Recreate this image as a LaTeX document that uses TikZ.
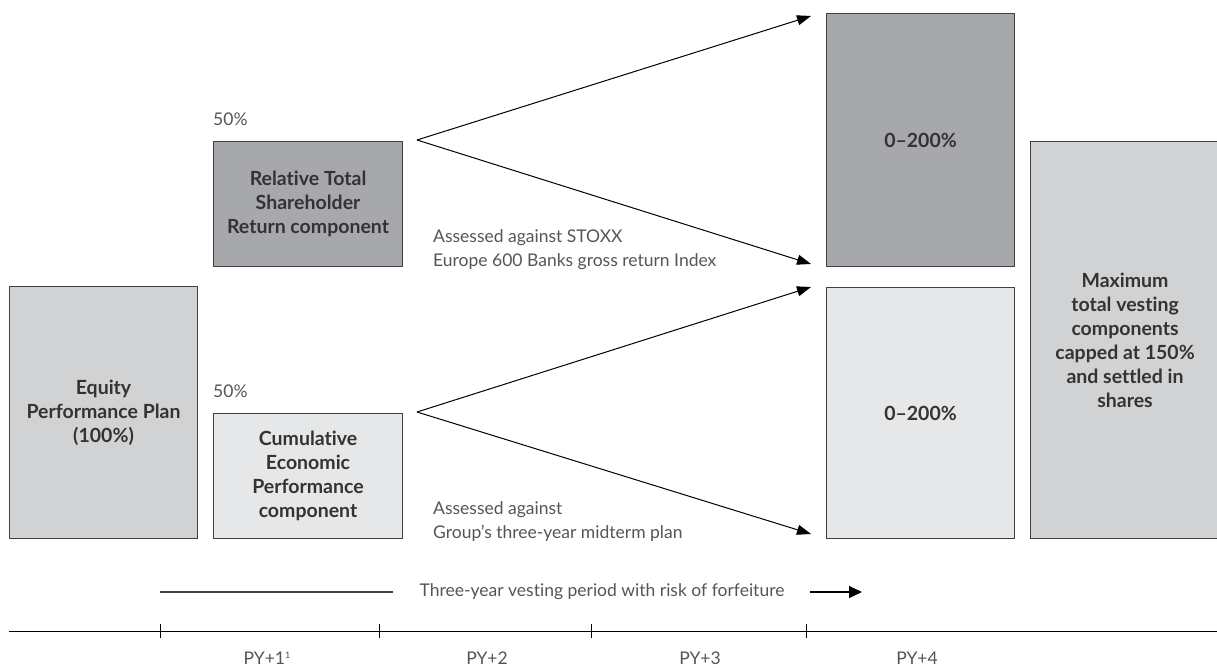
\documentclass[tikz,border=0pt]{standalone}
\usepackage{fontspec}
\setmainfont{Lato}[Ligatures=NoCommon]
\usetikzlibrary{arrows.meta}
\definecolor{bdr}{HTML}{3F3F41}
\definecolor{dk}{HTML}{A7A8AB}
\definecolor{md}{HTML}{D1D2D4}
\definecolor{lt}{HTML}{E6E7E8}
\definecolor{txt}{HTML}{333333}
\definecolor{ltxt}{HTML}{555555}
\tikzset{
  box/.style={draw=bdr, line width=1.1pt, anchor=north west, inner sep=0pt, align=center,
    text=txt, font=\fontsize{19.5}{24}\selectfont\bfseries},
  note/.style={anchor=west, inner sep=0pt, align=left, text=ltxt, font=\fontsize{17.5}{24}\selectfont},
  conn/.style={line width=1pt, draw=black, -{Triangle[length=14pt,width=10pt]}},
  axis/.style={line width=0.9pt, draw=black},
  yr/.style={inner sep=0pt, text=ltxt, font=\fontsize{17.5}{20}\selectfont}
}
\begin{document}
\begin{tikzpicture}[x=1pt,y=-1pt]
\useasboundingbox (0,0) rectangle (1217,668);
% boxes
\node[box, fill=md, minimum width=188pt, minimum height=252pt] (eq) at (9,286) {Equity\\Performance Plan\\(100\%)};
\node[box, fill=dk, minimum width=189pt, minimum height=125pt] (tsr) at (213,141) {Relative Total\\Shareholder\\Return component};
\node[box, fill=lt, minimum width=189pt, minimum height=125pt] (cep) at (213,413) {Cumulative\\Economic\\Performance\\component};
\node[box, fill=dk, minimum width=188pt, minimum height=253pt] (r1) at (826,13) {0–200\%};
\node[box, fill=lt, minimum width=188pt, minimum height=251pt] (r2) at (826,287) {0–200\%};
\node[box, fill=md, minimum width=189pt, minimum height=397pt] (mx) at (1030,141) {Maximum\\total vesting\\components\\capped at 150\%\\and settled in\\shares};
% percent labels
\node[note] (p1) at (213,119) {50\%};
\node[note] (p2) at (213,391) {50\%};
% fans
\coordinate (a1) at (417,140);
\coordinate (a2) at (417,412);
\coordinate (t1u) at (811,16);
\coordinate (t1d) at (811,264);
\coordinate (t2u) at (811,287);
\coordinate (t2d) at (811,534);
\draw[conn] (a1) -- (t1u);
\draw[conn] (a1) -- (t1d);
\draw[conn] (a2) -- (t2u);
\draw[conn] (a2) -- (t2d);
\node[note] (n1) at (433,250) {Assessed against STOXX\\Europe 600 Banks gross return Index};
\node[note] (n2) at (433,522) {Assessed against\\Group’s three-year midterm plan};
% vesting period
\coordinate (v0) at (160,592);
\coordinate (v1) at (393,592);
\node[note, anchor=center] (vt) at (602,592) {Three-year vesting period with risk of forfeiture};
\coordinate (v2) at (810,592);
\coordinate (v3) at (862,592);
\draw[line width=1.2pt, draw=black!75] (v0) -- (v1);
\draw[line width=1.2pt, -{Triangle[length=13pt,width=12pt]}] (v2) -- (v3);
% axis
\coordinate (x0) at (9,631);
\coordinate (x1) at (1217,631);
\draw[axis] (x0) -- (x1);
\foreach \t in {160,379,591,806}{
  \draw[axis] (\t,624) -- (\t,638);
}
\node[yr] (y1) at (267,658) {PY+1\raisebox{0.6ex}{\fontsize{9}{9}\selectfont 1}};
\node[yr] (y2) at (487,658) {PY+2};
\node[yr] (y3) at (700,658) {PY+3};
\node[yr] (y4) at (917,658) {PY+4};
\end{tikzpicture}
\end{document}
